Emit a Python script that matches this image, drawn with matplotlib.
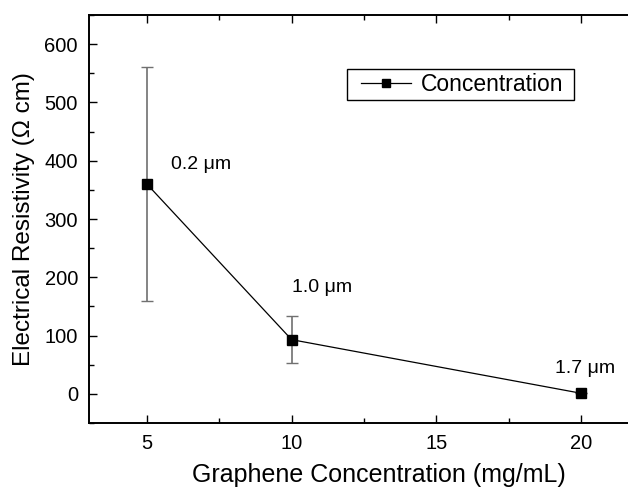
import matplotlib
matplotlib.use("Agg")
import matplotlib.pyplot as plt
import matplotlib.patches as mpatches
from matplotlib.ticker import MultipleLocator

# Data
conc = [5, 10, 20]
resistivity = [360, 93, 1]
resist_err = [200, 40, 0]
size_labels = ["0.2 \u03bcm", "1.0 \u03bcm", "1.7 \u03bcm"]
label_x = [5.83, 10.0, 19.1]
label_y = [394, 183, 43]

plt.rcParams["font.family"] = ["Liberation Sans", "DejaVu Sans"]

W, H = 628, 488
fig = plt.figure(figsize=(W / 100, H / 100), dpi=100)
ax = fig.add_axes([0.1417, 0.1332, 0.8758, 0.836])

ax.errorbar(conc, resistivity, yerr=resist_err, fmt="none",
            ecolor="#707070", elinewidth=1.2, capsize=4, capthick=1.0)
ax.plot(conc, resistivity, color="black", lw=0.9, marker="s",
        markersize=7, label="Concentration")

for x, y, lab in zip(label_x, label_y, size_labels):
    ax.text(x, y, lab, ha="left", va="center", fontsize=14)

ax.set_xlim(3, 22)
ax.set_ylim(-50, 650)
ax.set_xticks([5, 10, 15, 20])
ax.set_yticks([0, 100, 200, 300, 400, 500, 600])
ax.xaxis.set_minor_locator(MultipleLocator(2.5))
ax.yaxis.set_minor_locator(MultipleLocator(50))
ax.tick_params(which="both", direction="in", top=True, right=False,
               labelsize=14.5, width=1.0)
ax.tick_params(which="major", length=6)
ax.tick_params(which="minor", length=3.5)
ax.tick_params(axis="x", pad=8)
ax.tick_params(axis="y", pad=8)
for s in ["left", "bottom", "top"]:
    ax.spines[s].set_linewidth(1.4)
ax.spines["right"].set_visible(False)

ax.set_xlabel("Graphene Concentration (mg/mL)", fontsize=18, labelpad=7)
ax.xaxis.label.set_x(0.527)
ax.set_ylabel("Electrical Resistivity (\u03a9 cm)", fontsize=17.5, labelpad=7)

# legend: Origin-style box with wide left padding
leg = ax.legend(loc="center left", bbox_to_anchor=(361 / W, 1 - 84.5 / H),
                bbox_transform=fig.transFigure, fontsize=16.5, frameon=False,
                borderaxespad=0, borderpad=0, handlelength=2.2,
                handletextpad=0.4, markerscale=0.85)
fig.patches.append(mpatches.Rectangle((347 / W, 1 - 100 / H), 227 / W, 31 / H,
                                      transform=fig.transFigure, fill=False,
                                      edgecolor="black", linewidth=1.0))

fig.savefig("out.png", dpi=100)
